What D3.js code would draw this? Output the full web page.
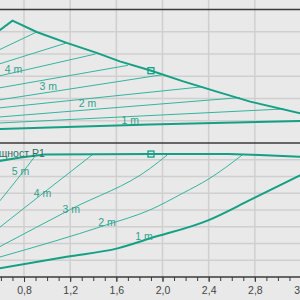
<!DOCTYPE html>
<html>
<head>
<meta charset="utf-8">
<title>Pump curves</title>
<style>
  body { margin: 0; background: #e9e9e9; }
  svg { display: block; font-family: "Liberation Sans", Arial, sans-serif; }
  .grid line { stroke: #cfcfcf; stroke-width: 1.5; }
  .frame { stroke: #3a3a3a; stroke-width: 1.5; }
  .thin { fill: none; stroke: #34b49d; stroke-width: 1; }
  .thick { fill: none; stroke: #14a085; stroke-width: 2; }
  .lbl { fill: #2ea18c; font-size: 10.5px; }
  .axis text { font-size: 10.5px; fill: #444; }
  .axis line { stroke: #3a3a3a; }
</style>
</head>
<body>
<script src="https://cdn.jsdelivr.net/npm/d3@7/dist/d3.min.js"></script>
<script>
// Q on x, head (top panel) and power P1 (bottom panel) in grid units
var qTicks = [0.8, 1.2, 1.6, 2.0, 2.4, 2.8, 3.2];

// top panel: max curve, min curve and the speed lines in between
var hMax = [[0.59, 5.07], [0.70, 5.50], [0.91, 4.99], [1.17, 4.50], [1.43, 4.05], [1.63, 3.67],
            [1.89, 3.27], [2.18, 2.77], [2.47, 2.31], [2.76, 1.86], [3.20, 1.33]];
var hMin = [[0.59, 0.63], [1.89, 0.83], [3.20, 0.99]];
var hLine1 = [[0.59, 4.20], [0.91, 4.99]];
var hLine2 = [[0.59, 3.56], [1.17, 4.50]];
var hLine3 = [[0.59, 3.02], [1.42, 4.00]];
var hLine4 = [[0.59, 2.48], [1.70, 3.49]];
var hLine5 = [[0.59, 1.94], [2.00, 3.07]];
var hLine6 = [[0.59, 1.58], [2.35, 2.53]];
var hLine7 = [[0.59, 1.17], [2.67, 2.04]];
var hLine8 = [[0.59, 0.90], [3.05, 1.53]];
var hLabels = ["4 m", "3 m", "2 m", "1 m"];
var hLabelPos = [[0.71, 3.29], [1.01, 2.53], [1.35, 1.80], [1.72, 1.04]];

// bottom panel: power P1
var pMax = [[0.59, 6.93], [0.77, 7.13], [0.98, 7.31], [1.89, 7.34], [2.57, 7.34], [2.84, 7.28], [3.20, 7.18]];
var p5 = [[0.59, 4.54], [0.75, 5.91], [0.91, 7.34]];
var p4 = [[0.59, 2.97], [1.00, 5.19], [1.40, 7.34]];
var p3 = [[0.59, 1.81], [1.21, 4.06], [1.89, 6.47], [2.04, 7.28]];
var p2 = [[0.59, 1.19], [1.51, 3.10], [1.89, 4.00], [2.18, 5.02], [2.40, 5.85], [2.69, 7.28]];
var p1 = [[0.59, 0.52], [1.17, 1.21], [1.61, 1.71], [1.89, 2.30], [2.40, 3.40], [2.76, 4.60], [3.20, 6.09]];
var pLabels = ["5 m", "4 m", "3 m", "2 m", "1 m"];
var pLabelPos = [[0.77, 6.33], [0.96, 5.01], [1.21, 4.06], [1.52, 3.24], [1.84, 2.41]];
var pTitle = "Мощност P1";

var dutyQ = 1.9, dutyH = 3.25, dutyP = 7.34;

var width = 300, height = 300;
var svg = d3.select("body").append("svg")
  .attr("width", width)
  .attr("height", height);

var x = d3.scaleLinear().domain([0.8, 3.2]).range([24, 301]);
var yTop = d3.scaleLinear().domain([0, 6]).range([143, 9.5]);
var yBot = d3.scaleLinear().domain([0, 8]).range([277, 143]);

// grid
var grid = svg.append("g").attr("class", "grid");
grid.selectAll(".v").data(qTicks).join("line")
  .attr("x1", d => x(d)).attr("x2", d => x(d))
  .attr("y1", 0).attr("y2", yBot(0));
grid.selectAll(".ht").data(d3.range(1, 6)).join("line").attr("class", "ht")
  .attr("x1", 0).attr("x2", width)
  .attr("y1", d => yTop(d)).attr("y2", d => yTop(d));
grid.selectAll(".hb").data(d3.range(1, 8)).join("line").attr("class", "hb")
  .attr("x1", 0).attr("x2", width)
  .attr("y1", d => yBot(d)).attr("y2", d => yBot(d));

// panel frames
[yTop(6), yBot(8), yBot(0)].forEach(function (yy) {
  svg.append("line").attr("class", "frame")
    .attr("x1", 0).attr("x2", width).attr("y1", yy).attr("y2", yy);
});

var lineTop = d3.line().x(d => x(d[0])).y(d => yTop(d[1]));
var lineBot = d3.line().x(d => x(d[0])).y(d => yBot(d[1]));
var lineBotCurve = d3.line().x(d => x(d[0])).y(d => yBot(d[1])).curve(d3.curveMonotoneX);

[hLine1, hLine2, hLine3, hLine4, hLine5, hLine6, hLine7, hLine8].forEach(function (s) {
  svg.append("path").attr("class", "thin").attr("d", lineTop(s));
});
svg.append("path").attr("class", "thick").attr("d", lineTop(hMin));
svg.append("path").attr("class", "thick").attr("d", lineTop(hMax));

[p5, p4, p3, p2].forEach(function (s) {
  svg.append("path").attr("class", "thin").attr("d", lineBotCurve(s));
});
svg.append("path").attr("class", "thick").attr("d", lineBotCurve(p1));
svg.append("path").attr("class", "thick").attr("d", lineBot(pMax));

// labels
svg.selectAll(".hl").data(hLabels).join("text")
  .attr("class", "lbl")
  .attr("x", (d, i) => x(hLabelPos[i][0]))
  .attr("y", (d, i) => yTop(hLabelPos[i][1]))
  .attr("text-anchor", "middle")
  .attr("dy", "0.35em")
  .text(d => d);
svg.selectAll(".pl").data(pLabels).join("text")
  .attr("class", "lbl")
  .attr("x", (d, i) => x(pLabelPos[i][0]))
  .attr("y", (d, i) => yBot(pLabelPos[i][1]))
  .attr("text-anchor", "middle")
  .attr("dy", "0.35em")
  .text(d => d);
svg.append("text")
  .attr("class", "lbl")
  .attr("x", x(0.98))
  .attr("y", yBot(7.4))
  .attr("dy", "0.35em")
  .attr("text-anchor", "end")
  .style("fill", "#2f6f66")
  .text(pTitle);

// duty point markers
[yTop(dutyH), yBot(dutyP)].forEach(function (yy) {
  svg.append("rect")
    .attr("x", x(dutyQ) - 3).attr("y", yy - 3)
    .attr("width", 6).attr("height", 6)
    .attr("fill", "none")
    .attr("stroke", "#14a085")
    .attr("stroke-width", 1.3);
});

// x axis
var fmt = v => d3.format(".1f")(v).replace(".", ",");
svg.append("g")
  .attr("class", "axis")
  .attr("transform", "translate(0," + yBot(0) + ")")
  .call(d3.axisBottom(x).tickValues(d3.range(6, 33).map(d => d / 10)).tickSize(4).tickFormat(""))
  .call(g => g.select(".domain").remove());
svg.append("g")
  .attr("class", "axis")
  .attr("transform", "translate(0," + yBot(0) + ")")
  .call(d3.axisBottom(x).tickValues(qTicks).tickSize(5).tickPadding(5).tickFormat(fmt))
  .call(g => g.select(".domain").remove());
</script>
</body>
</html>
